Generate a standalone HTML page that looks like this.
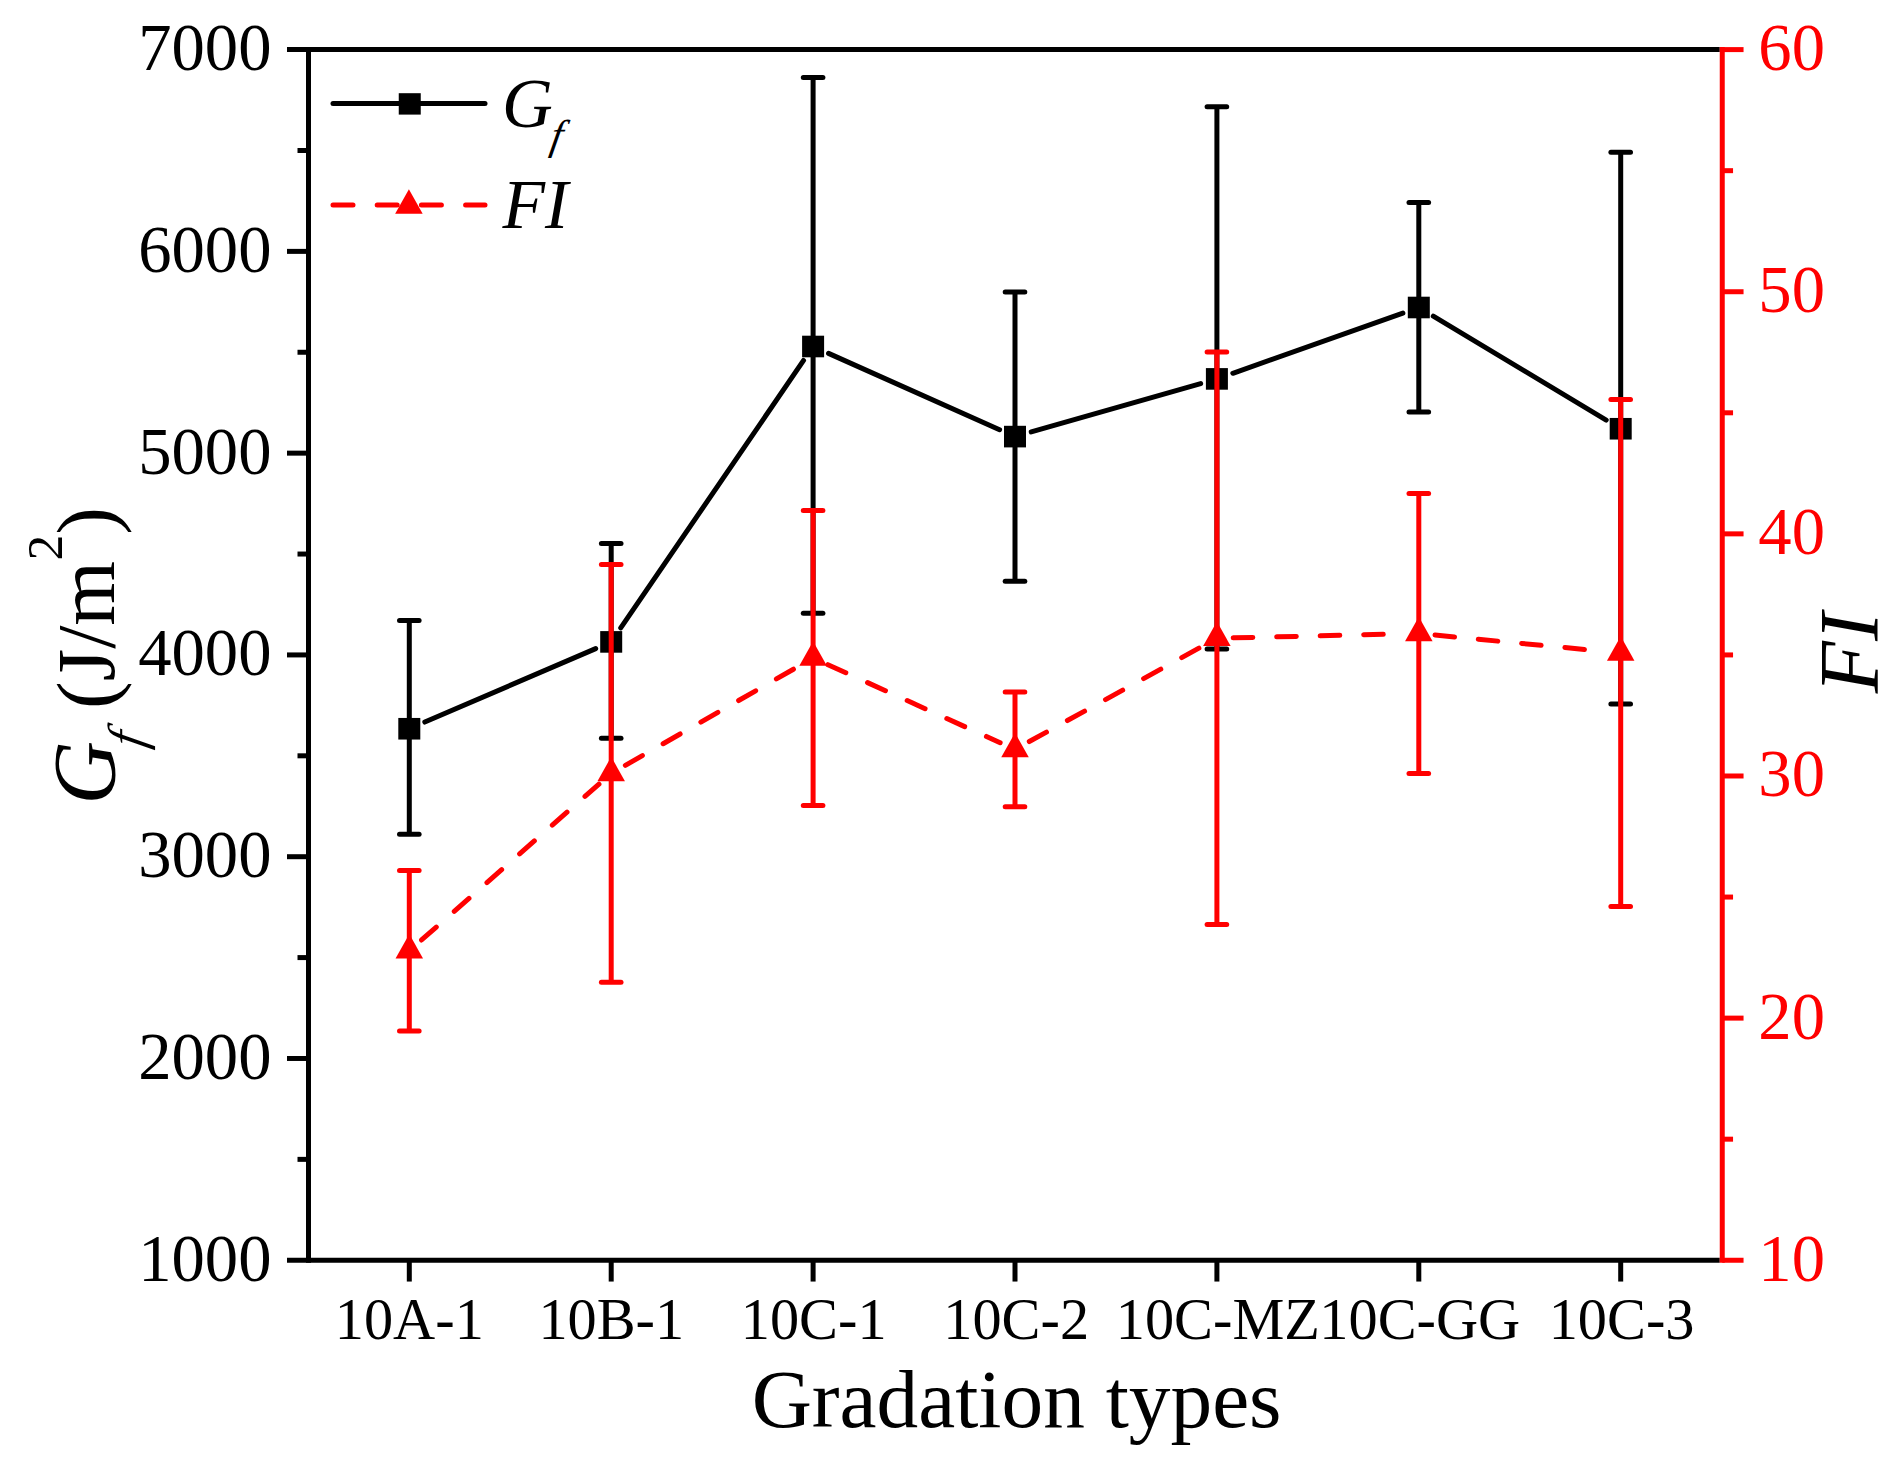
<!DOCTYPE html><html><head><meta charset="utf-8"><title>Gf and FI vs gradation types</title>
<style>html,body{margin:0;padding:0;background:#fff}svg{display:block}text{font-family:"Liberation Serif","Times New Roman",serif}</style></head><body>
<svg width="1902" height="1476" viewBox="0 0 1902 1476">
<rect width="1902" height="1476" fill="#fff"/>
<g stroke="#000" stroke-width="5" fill="none" stroke-linecap="butt">
<line x1="308.5" y1="47.1" x2="308.5" y2="1262.75"/>
<line x1="287.0" y1="49.6" x2="1719.75" y2="49.6"/>
<line x1="287.0" y1="1260.25" x2="1719.75" y2="1260.25"/>
<line x1="287.0" y1="251.38" x2="308.5" y2="251.38"/>
<line x1="287.0" y1="453.15" x2="308.5" y2="453.15"/>
<line x1="287.0" y1="654.93" x2="308.5" y2="654.93"/>
<line x1="287.0" y1="856.70" x2="308.5" y2="856.70"/>
<line x1="287.0" y1="1058.47" x2="308.5" y2="1058.47"/>
<line x1="297.5" y1="150.49" x2="308.5" y2="150.49"/>
<line x1="297.5" y1="352.26" x2="308.5" y2="352.26"/>
<line x1="297.5" y1="554.04" x2="308.5" y2="554.04"/>
<line x1="297.5" y1="755.81" x2="308.5" y2="755.81"/>
<line x1="297.5" y1="957.59" x2="308.5" y2="957.59"/>
<line x1="297.5" y1="1159.36" x2="308.5" y2="1159.36"/>
<line x1="409.30" y1="1260.25" x2="409.30" y2="1281.55"/>
<line x1="611.20" y1="1260.25" x2="611.20" y2="1281.55"/>
<line x1="813.10" y1="1260.25" x2="813.10" y2="1281.55"/>
<line x1="1015.00" y1="1260.25" x2="1015.00" y2="1281.55"/>
<line x1="1216.90" y1="1260.25" x2="1216.90" y2="1281.55"/>
<line x1="1418.80" y1="1260.25" x2="1418.80" y2="1281.55"/>
<line x1="1620.70" y1="1260.25" x2="1620.70" y2="1281.55"/>
</g>
<g stroke="#ff0000" stroke-width="5" fill="none">
<line x1="1722.25" y1="47.1" x2="1722.25" y2="1262.75"/>
<line x1="1722.25" y1="49.60" x2="1743.55" y2="49.60"/>
<line x1="1722.25" y1="291.73" x2="1743.55" y2="291.73"/>
<line x1="1722.25" y1="533.86" x2="1743.55" y2="533.86"/>
<line x1="1722.25" y1="775.99" x2="1743.55" y2="775.99"/>
<line x1="1722.25" y1="1018.12" x2="1743.55" y2="1018.12"/>
<line x1="1722.25" y1="1260.25" x2="1743.55" y2="1260.25"/>
<line x1="1722.25" y1="170.67" x2="1733.05" y2="170.67"/>
<line x1="1722.25" y1="412.80" x2="1733.05" y2="412.80"/>
<line x1="1722.25" y1="654.93" x2="1733.05" y2="654.93"/>
<line x1="1722.25" y1="897.06" x2="1733.05" y2="897.06"/>
<line x1="1722.25" y1="1139.18" x2="1733.05" y2="1139.18"/>
</g>
<g font-size="66.67" fill="#000" text-anchor="end">
<text x="271.5" y="70.10">7000</text>
<text x="271.5" y="271.88">6000</text>
<text x="271.5" y="473.65">5000</text>
<text x="271.5" y="675.43">4000</text>
<text x="271.5" y="877.20">3000</text>
<text x="271.5" y="1078.97">2000</text>
<text x="271.5" y="1280.75">1000</text>
</g>
<g font-size="66.67" fill="#ff0000" text-anchor="end">
<text x="1825" y="70.10">60</text>
<text x="1825" y="312.23">50</text>
<text x="1825" y="554.36">40</text>
<text x="1825" y="796.49">30</text>
<text x="1825" y="1038.62">20</text>
<text x="1825" y="1280.75">10</text>
</g>
<g font-size="58.33" fill="#000" text-anchor="middle">
<text x="409.30" y="1339.3">10A-1</text>
<text x="611.30" y="1339.3">10B-1</text>
<text x="813.70" y="1339.3">10C-1</text>
<text x="1016.20" y="1339.3">10C-2</text>
<text x="1217.80" y="1339.3">10C-MZ</text>
<text x="1419.80" y="1339.3">10C-GG</text>
<text x="1621.60" y="1339.3">10C-3</text>
</g>
<text x="1016.6" y="1427.2" font-size="83.33" text-anchor="middle" fill="#000">Gradation types</text>
<g transform="translate(114.2,799.5) rotate(-90)" fill="#000" font-size="83.33">
<text x="-5.1" y="0" font-style="italic" font-size="87.91">G</text>
<text transform="translate(50.5,29.4) skewX(-10)" font-style="italic" font-size="52.08">f</text>
<text x="90.5" y="0">(J/m</text>
<text x="239" y="-52.2" font-size="51.66">2</text>
<text x="264.7" y="0">)</text>
</g>
<g transform="translate(1878,693.2) rotate(-90)" fill="#000" font-size="85.3">
<text x="0" y="0" font-style="italic">FI</text>
</g>
<g stroke="#000" stroke-width="5" fill="none" stroke-linecap="round">
<line x1="424.82" y1="722.07" x2="595.68" y2="648.58"/>
<line x1="620.74" y1="627.95" x2="803.56" y2="360.45"/>
<line x1="828.53" y1="353.39" x2="999.57" y2="429.71"/>
<line x1="1031.25" y1="431.96" x2="1200.65" y2="383.54"/>
<line x1="1232.83" y1="373.27" x2="1402.87" y2="313.13"/>
<line x1="1433.29" y1="316.20" x2="1606.21" y2="420.05"/>
<line x1="409.30" y1="620.6" x2="409.30" y2="834.25" stroke-linecap="butt"/>
<line x1="399.50" y1="620.6" x2="419.10" y2="620.6"/>
<line x1="399.50" y1="834.25" x2="419.10" y2="834.25"/>
<line x1="611.20" y1="543.6" x2="611.20" y2="738.25" stroke-linecap="butt"/>
<line x1="601.40" y1="543.6" x2="621.00" y2="543.6"/>
<line x1="601.40" y1="738.25" x2="621.00" y2="738.25"/>
<line x1="813.10" y1="77.5" x2="813.10" y2="613.25" stroke-linecap="butt"/>
<line x1="803.30" y1="77.5" x2="822.90" y2="77.5"/>
<line x1="803.30" y1="613.25" x2="822.90" y2="613.25"/>
<line x1="1015.00" y1="292" x2="1015.00" y2="581.25" stroke-linecap="butt"/>
<line x1="1005.20" y1="292" x2="1024.80" y2="292"/>
<line x1="1005.20" y1="581.25" x2="1024.80" y2="581.25"/>
<line x1="1216.90" y1="106.75" x2="1216.90" y2="649" stroke-linecap="butt"/>
<line x1="1207.10" y1="106.75" x2="1226.70" y2="106.75"/>
<line x1="1207.10" y1="649" x2="1226.70" y2="649"/>
<line x1="1418.80" y1="202.5" x2="1418.80" y2="412" stroke-linecap="butt"/>
<line x1="1409.00" y1="202.5" x2="1428.60" y2="202.5"/>
<line x1="1409.00" y1="412" x2="1428.60" y2="412"/>
<line x1="1620.70" y1="152.25" x2="1620.70" y2="704" stroke-linecap="butt"/>
<line x1="1610.90" y1="152.25" x2="1630.50" y2="152.25"/>
<line x1="1610.90" y1="704" x2="1630.50" y2="704"/>
</g>
<g fill="#000">
<rect x="398.30" y="717.95" width="22" height="21.6"/>
<rect x="600.20" y="631.10" width="22" height="21.6"/>
<rect x="802.10" y="335.70" width="22" height="21.6"/>
<rect x="1004.00" y="425.80" width="22" height="21.6"/>
<rect x="1205.90" y="368.10" width="22" height="21.6"/>
<rect x="1407.80" y="296.70" width="22" height="21.6"/>
<rect x="1609.70" y="417.95" width="22" height="21.6"/>
</g>
<g stroke="#ff0000" stroke-width="5" fill="none" stroke-linecap="round">
<line x1="421.55" y1="939.99" x2="598.95" y2="784.16" stroke-dasharray="19.6 23.9"/>
<line x1="625.35" y1="765.31" x2="798.95" y2="666.04" stroke-dasharray="19.6 23.9"/>
<line x1="827.95" y1="664.68" x2="1000.15" y2="742.67" stroke-dasharray="19.6 23.9"/>
<line x1="1029.28" y1="741.54" x2="1202.62" y2="646.11" stroke-dasharray="19.6 23.9"/>
<line x1="1233.20" y1="637.87" x2="1402.50" y2="633.88" stroke-dasharray="19.6 23.9"/>
<line x1="1435.02" y1="635.07" x2="1604.48" y2="651.43" stroke-dasharray="19.6 23.9"/>
<line x1="409.30" y1="870.5" x2="409.30" y2="1031" stroke-linecap="butt"/>
<line x1="399.50" y1="870.5" x2="419.10" y2="870.5"/>
<line x1="399.50" y1="1031" x2="419.10" y2="1031"/>
<line x1="611.20" y1="564.5" x2="611.20" y2="982.25" stroke-linecap="butt"/>
<line x1="601.40" y1="564.5" x2="621.00" y2="564.5"/>
<line x1="601.40" y1="982.25" x2="621.00" y2="982.25"/>
<line x1="813.10" y1="510.4" x2="813.10" y2="805.5" stroke-linecap="butt"/>
<line x1="803.30" y1="510.4" x2="822.90" y2="510.4"/>
<line x1="803.30" y1="805.5" x2="822.90" y2="805.5"/>
<line x1="1015.00" y1="692" x2="1015.00" y2="806.75" stroke-linecap="butt"/>
<line x1="1005.20" y1="692" x2="1024.80" y2="692"/>
<line x1="1005.20" y1="806.75" x2="1024.80" y2="806.75"/>
<line x1="1216.90" y1="352" x2="1216.90" y2="924.5" stroke-linecap="butt"/>
<line x1="1207.10" y1="352" x2="1226.70" y2="352"/>
<line x1="1207.10" y1="924.5" x2="1226.70" y2="924.5"/>
<line x1="1418.80" y1="493.5" x2="1418.80" y2="773.5" stroke-linecap="butt"/>
<line x1="1409.00" y1="493.5" x2="1428.60" y2="493.5"/>
<line x1="1409.00" y1="773.5" x2="1428.60" y2="773.5"/>
<line x1="1620.70" y1="399.5" x2="1620.70" y2="906.4" stroke-linecap="butt"/>
<line x1="1610.90" y1="399.5" x2="1630.50" y2="399.5"/>
<line x1="1610.90" y1="906.4" x2="1630.50" y2="906.4"/>
</g>
<g fill="#ff0000">
<polygon points="409.30,934.05 423.05,958.55 395.55,958.55"/>
<polygon points="611.20,756.70 624.95,781.20 597.45,781.20"/>
<polygon points="813.10,641.25 826.85,665.75 799.35,665.75"/>
<polygon points="1015.00,732.70 1028.75,757.20 1001.25,757.20"/>
<polygon points="1216.90,621.55 1230.65,646.05 1203.15,646.05"/>
<polygon points="1418.80,616.80 1432.55,641.30 1405.05,641.30"/>
<polygon points="1620.70,636.30 1634.45,660.80 1606.95,660.80"/>
</g>
<g stroke-width="5" fill="none" stroke-linecap="round">
<line x1="333" y1="103.5" x2="485" y2="103.5" stroke="#000"/>
<line x1="333" y1="205" x2="485" y2="205" stroke="#ff0000" stroke-dasharray="20 24.2"/>
</g>
<rect x="398.75" y="93.2" width="22" height="21.4" fill="#000"/>
<g fill="#ff0000"><polygon points="408.90,189.25 422.65,213.75 395.15,213.75"/></g>
<g fill="#000" font-style="italic">
<text x="502.1" y="126.5" font-size="70.3">G</text>
<text transform="translate(549,148.5) skewX(-10)" font-size="41.8">f</text>
<text x="502.5" y="227.5" font-size="69.7">FI</text>
</g>
</svg></body></html>
